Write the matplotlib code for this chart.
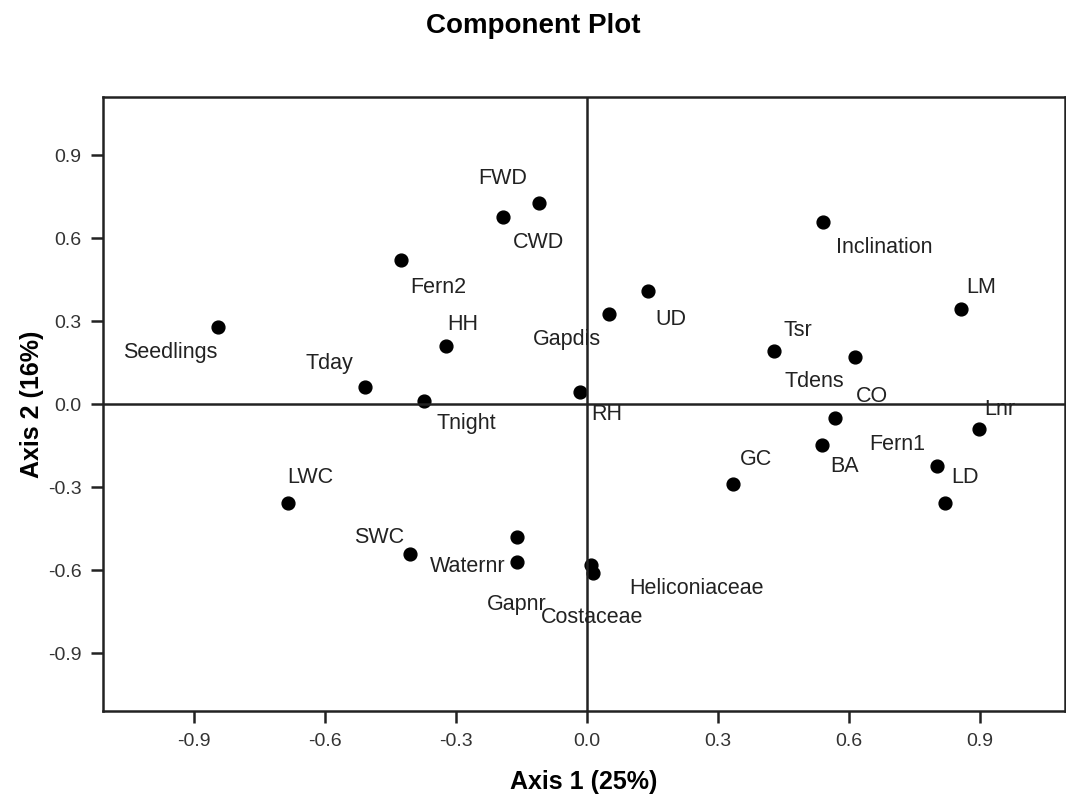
import matplotlib
matplotlib.use("Agg")
import matplotlib.pyplot as plt

plt.rcParams['font.family'] = ['Liberation Sans', 'DejaVu Sans']

# component loadings
variables = ['Seedlings', 'Fern2', 'Tday', 'Tnight', 'HH', 'FWD', 'CWD', 'Gapdis', 'UD', 'RH',
             'Inclination', 'LM', 'Tsr', 'Tdens', 'CO', 'Lnr', 'BA', 'Fern1', 'LD', 'GC',
             'LWC', 'SWC', 'Gapnr', 'Waternr', 'Heliconiaceae', 'Costaceae']
axis1 = [-0.845, -0.426, -0.508, -0.373, -0.323, -0.110, -0.192, 0.050, 0.140, -0.016,
         0.540, 0.856, 0.428, 0.614, 0.568, 0.898, 0.538, 0.801, 0.820, 0.334,
         -0.685, -0.405, -0.160, -0.160, 0.009, 0.014]
axis2 = [0.278, 0.520, 0.061, 0.011, 0.210, 0.726, 0.676, 0.325, 0.408, 0.043,
         0.658, 0.343, 0.192, 0.170, -0.051, -0.090, -0.148, -0.224, -0.358, -0.289,
         -0.358, -0.542, -0.481, -0.571, -0.582, -0.611]

# where SPSS put each label (centre of text)
label_x = [-0.955, -0.341, -0.589, -0.277, -0.284, -0.192, -0.110, -0.046, 0.192, 0.046,
           0.682, 0.904, 0.483, 0.520, 0.653, 0.946, 0.591, 0.710, 0.866, 0.387,
           -0.634, -0.476, -0.160, -0.272, 0.252, 0.011]
label_y = [0.188, 0.423, 0.148, -0.069, 0.289, 0.817, 0.585, 0.235, 0.304, -0.036,
           0.567, 0.423, 0.267, 0.080, 0.029, -0.018, -0.224, -0.148, -0.264, -0.202,
           -0.267, -0.481, -0.726, -0.589, -0.665, -0.770]

x_ticks = [-0.9, -0.6, -0.3, 0.0, 0.3, 0.6, 0.9]
y_ticks = [-0.9, -0.6, -0.3, 0.0, 0.3, 0.6, 0.9]

fig = plt.figure(figsize=(10.66, 7.99), dpi=100)
ax = fig.add_axes([0.0966, 0.110, 0.9024, 0.7686])

ax.scatter(axis1, axis2, s=85, color='black', zorder=3)

for name, tx, ty in zip(variables, label_x, label_y):
    ax.text(tx, ty, name, ha='center', va='center', fontsize=15.5, color='#222222', zorder=2)

# reference lines through the origin
ax.axhline(0, color='#222222', linewidth=1.8, zorder=4)
ax.axvline(0, color='#222222', linewidth=1.8, zorder=4)

ax.set_xlim(-1.108, 1.095)
ax.set_ylim(-1.11, 1.11)
ax.set_xticks(x_ticks)
ax.set_yticks(y_ticks)
ax.set_xticklabels([f"{t:.1f}" for t in x_ticks])
ax.set_yticklabels([f"{t:.1f}" for t in y_ticks])
ax.tick_params(direction='out', length=8.5, width=1.8, color='#222222',
               labelsize=14, labelcolor='#333333', pad=7)

for spine in ax.spines.values():
    spine.set_linewidth(1.8)
    spine.set_color('#222222')

ax.set_xlabel('Axis 1 (25%)', fontsize=18, fontweight='bold', labelpad=15)
ax.set_ylabel('Axis 2 (16%)', fontsize=18, fontweight='bold', labelpad=3)
fig.text(0.5, 0.968, 'Component Plot', ha='center', va='center', fontsize=20, fontweight='bold')

fig.savefig('out.png', dpi=100)
